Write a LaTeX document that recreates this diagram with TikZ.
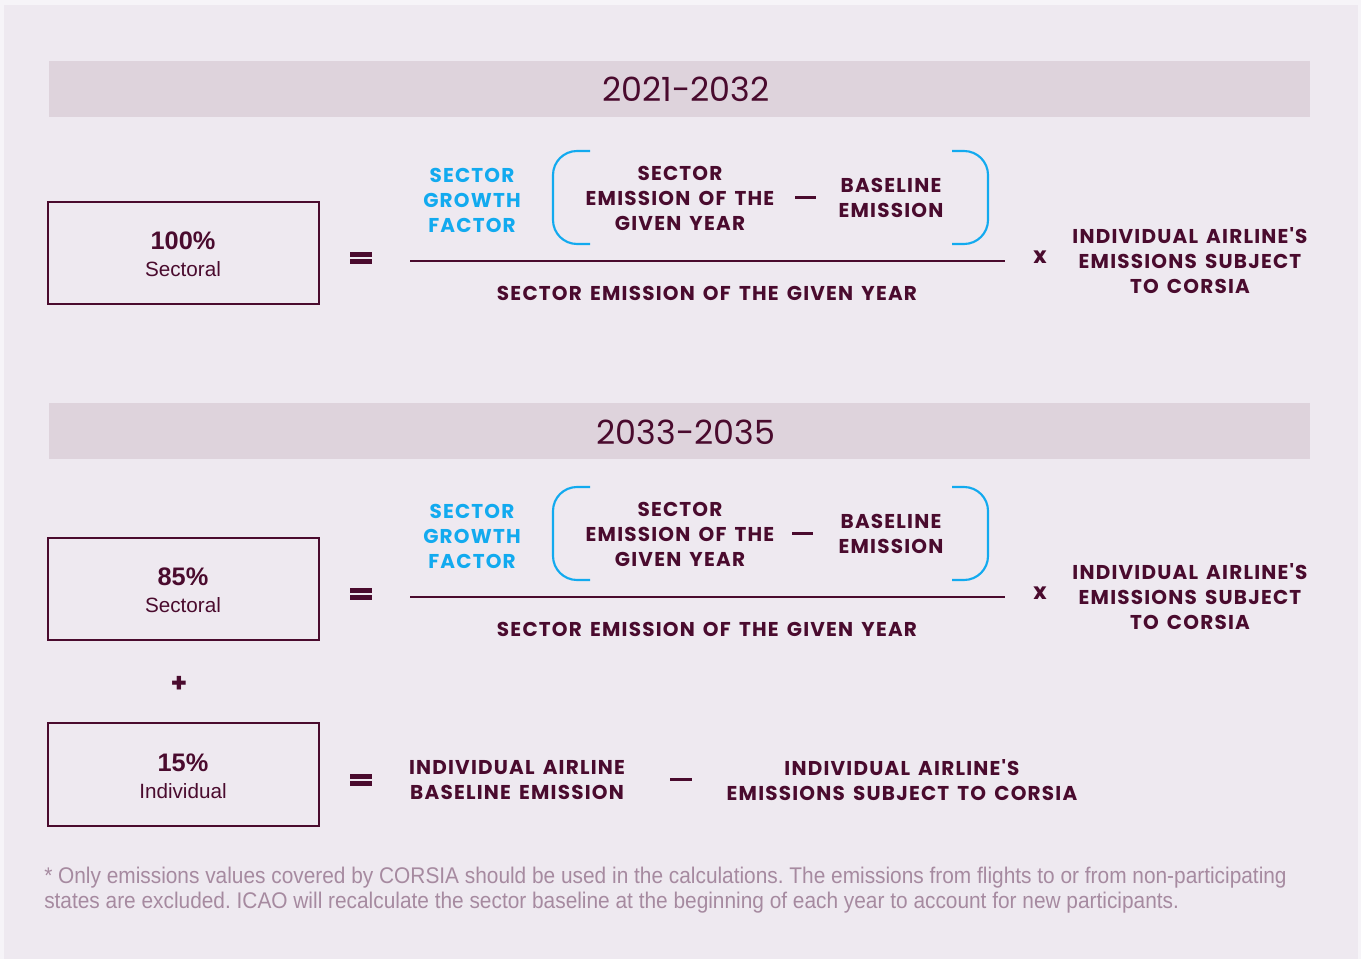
\documentclass[tikz,border=0pt]{standalone}
\usepackage{fontspec}
\setmainfont{Poppins}
\newfontfamily\capsf[LetterSpace=6,WordSpace=1.5]{Poppins}
\newfontfamily\arialf{Liberation Sans}
\newfontfamily\footf[FakeStretch=0.92]{Liberation Sans}
\frenchspacing
\newcommand{\apos}{{\char"27}}
\definecolor{bgouter}{HTML}{F6F4F8}
\definecolor{bgin}{HTML}{EEE9F0}
\definecolor{barc}{HTML}{DED3DC}
\definecolor{dark}{HTML}{4A0B2E}
\definecolor{bluec}{HTML}{12AAEF}
\definecolor{footc}{HTML}{A68AA0}
\tikzset{
  caps/.style={font=\capsf\bfseries\fontsize{15}{18.75}\selectfont, text=dark, align=center, inner sep=0pt},
  bluecaps/.style={caps, text=bluec},
  year/.style={font=\fontsize{25}{30}\selectfont, text=dark, inner sep=0pt},
  pctbox/.style={draw=dark, line width=1.2pt, fill=none},
  pct/.style={font=\arialf\bfseries\fontsize{19}{22}\selectfont, text=dark, inner sep=0pt},
  pctsub/.style={font=\arialf\fontsize{15.5}{18}\selectfont, text=dark, inner sep=0pt},
  bracket/.style={draw=bluec, line width=1.6pt, rounded corners=18pt},
  fracline/.style={draw=dark, line width=1.5pt},
  eqbar/.style={fill=dark, draw=none},
  foot/.style={font=\footf\fontsize{17}{19}\selectfont, text=footc, inner sep=0pt, anchor=base west},
}
\begin{document}
\begin{tikzpicture}[x=0.75pt,y=-0.75pt]
\fill[bgouter] (0,0) rectangle (1361,959);
\fill[bgin] (4,5) rectangle (1358,959);
\useasboundingbox (0,0) rectangle (1361,959);

% ---------- Section 1 ----------
\fill[barc] (49,61) rectangle (1310,117);
\node[year] (y1) at (686,89) {2021-2032};

\draw[pctbox] (48,202) rectangle (319,304);
\node[pct] (p1) at (183,241) {100\%};
\node[pctsub] (s1) at (183,269) {Sectoral};

\fill[eqbar] (350,252) rectangle (372,257);
\fill[eqbar] (350,259) rectangle (372,264);

\node[bluecaps] (g1) at (472,200) {SECTOR\\GROWTH\\FACTOR};
\draw[bracket] (590,151) -- (553,151) -- (553,244) -- (590,244);
\draw[bracket] (952,151) -- (988,151) -- (988,244) -- (952,244);
\node[caps] (se1) at (680,198) {SECTOR\\EMISSION OF THE\\GIVEN YEAR};
\fill[dark] (795,195.8) rectangle (816,198.8);
\node[caps] (b1) at (891,198) {BASELINE\\EMISSION};
\draw[fracline] (410,261) -- (1005,261);
\node[caps] (d1) at (707,293) {SECTOR EMISSION OF THE GIVEN YEAR};
\node[caps, font=\bfseries\fontsize{17}{20}\selectfont] (x1) at (1040,257) {x};
\node[caps] (i1) at (1190,261) {INDIVIDUAL AIRLINE\apos S\\EMISSIONS SUBJECT\\TO CORSIA};

% ---------- Section 2 ----------
\fill[barc] (49,403) rectangle (1310,459);
\node[year] (y2) at (686,432) {2033-2035};

\draw[pctbox] (48,538) rectangle (319,640);
\node[pct] (p2) at (183,577) {85\%};
\node[pctsub] (s2) at (183,605) {Sectoral};

\fill[eqbar] (350,588) rectangle (372,593);
\fill[eqbar] (350,595) rectangle (372,600);

\node[bluecaps] (g2) at (472,536) {SECTOR\\GROWTH\\FACTOR};
\draw[bracket] (590,487) -- (553,487) -- (553,580) -- (590,580);
\draw[bracket] (952,487) -- (988,487) -- (988,580) -- (952,580);
\node[caps] (se2) at (680,534) {SECTOR\\EMISSION OF THE\\GIVEN YEAR};
\fill[dark] (792,531.8) rectangle (813,534.8);
\node[caps] (b2) at (891,534) {BASELINE\\EMISSION};
\draw[fracline] (410,597) -- (1005,597);
\node[caps] (d2) at (707,629) {SECTOR EMISSION OF THE GIVEN YEAR};
\node[caps, font=\bfseries\fontsize{17}{20}\selectfont] (x2) at (1040,593) {x};
\node[caps] (i2) at (1190,597) {INDIVIDUAL AIRLINE\apos S\\EMISSIONS SUBJECT\\TO CORSIA};

\node[caps, font=\bfseries\fontsize{20}{22}\selectfont] (plus) at (179,684) {+};

\draw[pctbox] (48,723) rectangle (319,826);
\node[pct] (p3) at (183,763) {15\%};
\node[pctsub] (s3) at (183,791) {Individual};

\fill[eqbar] (350,774) rectangle (372,779);
\fill[eqbar] (350,781) rectangle (372,786);

\node[caps] (ib) at (517,780) {INDIVIDUAL AIRLINE\\BASELINE EMISSION};
\fill[dark] (670,777.8) rectangle (692,780.8);
\node[caps] (ie) at (902,780) {INDIVIDUAL AIRLINE\apos S\\EMISSIONS SUBJECT TO CORSIA};

\node[foot] (f1) at (44,883) {* Only emissions values covered by CORSIA should be used in the calculations. The emissions from flights to or from non-participating};
\node[foot] (f2) at (44,908) {states are excluded. ICAO will recalculate the sector baseline at the beginning of each year to account for new participants.};
\end{tikzpicture}
\end{document}
